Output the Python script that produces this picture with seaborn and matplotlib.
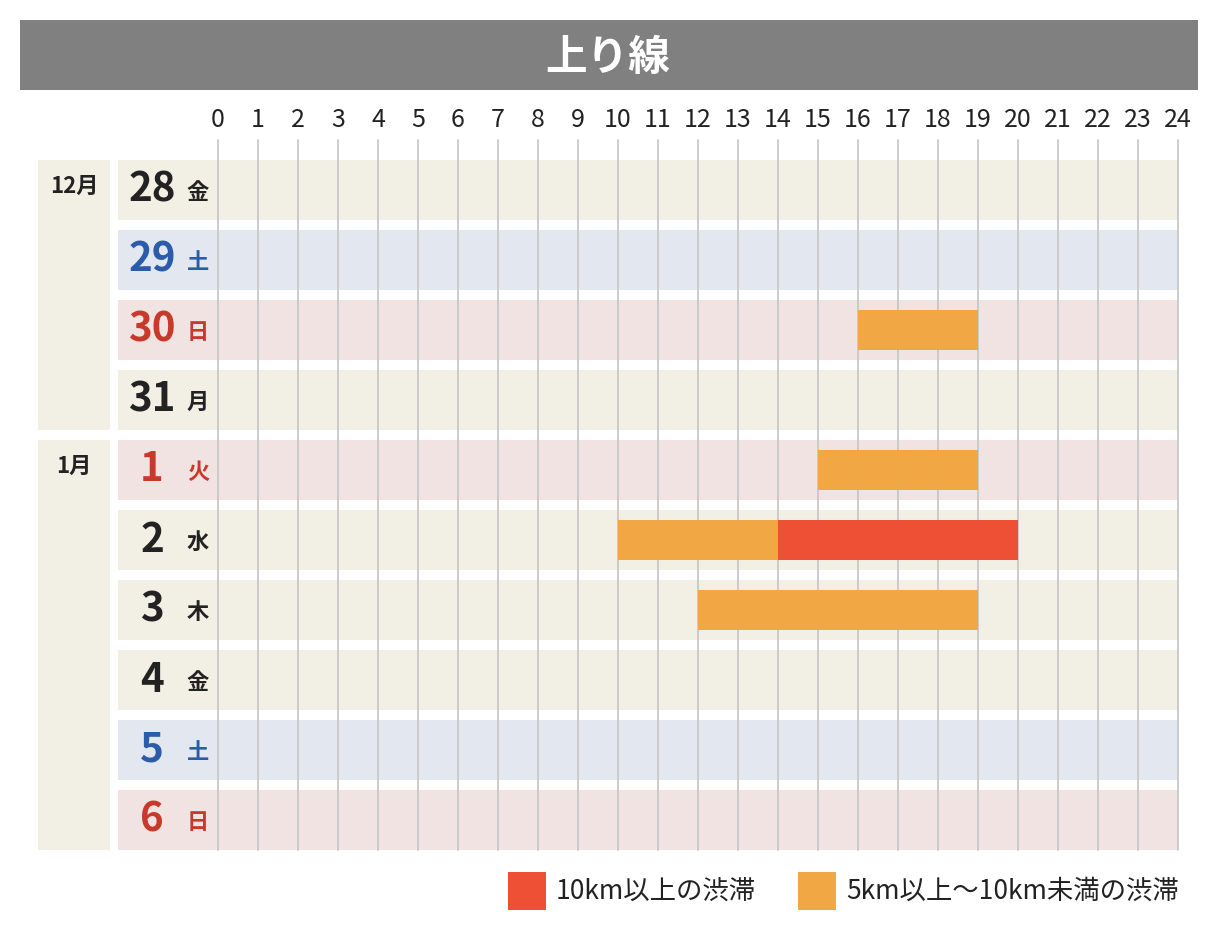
import matplotlib
matplotlib.use("Agg")
import matplotlib.pyplot as plt
import seaborn as sns
from matplotlib.patches import Rectangle

sns.set_theme(style="white", rc={"font.family": "Noto Sans CJK JP"})

days = ["28", "29", "30", "31", "1", "2", "3", "4", "5", "6"]
weekdays = ["金", "土", "日", "月", "火", "水", "木", "金", "土", "日"]
day_kind = ["w", "sat", "hol", "w", "hol", "w", "w", "w", "sat", "hol"]
hours = list(range(25))
# jams: (row, start, end, level)
jam_rows = [2, 4, 5, 5, 6]
jam_start = [16, 15, 10, 14, 12]
jam_end = [19, 19, 14, 20, 19]
jam_level = ["mid", "mid", "mid", "high", "mid"]
months = ["12月", "1月"]
month_first = [0, 4]
month_last = [3, 9]

bg = {"w": "#f2efe4", "sat": "#e3e7ef", "hol": "#f1e3e1"}
fg = {"w": "#222222", "sat": "#2a5caa", "hol": "#c8392b"}
jc = {"high": "#ee5035", "mid": "#f2a745"}

fig = plt.figure(figsize=(12.18, 9.4), dpi=100)
W, H = 1218, 940
ax = fig.add_axes([118 / W, 1 - 860 / H, 1060 / W, 710 / H])
ax.set_xlim(-2.5, 24)
ax.set_ylim(9.571, -0.571)
ax.axis("off")

rh = 60 / 70
for i, k in enumerate(day_kind):
    ax.barh(i, 26.5, left=-2.5, height=rh, color=bg[k], linewidth=0, zorder=1)
for h in hours:
    ax.plot([h, h], [-0.714, 9.43], color="#c8c8c8", lw=1.3, zorder=2, clip_on=False)
    ax.text(h, -1.0, str(h), ha="center", va="center", fontsize=18, color="#222", clip_on=False)
for r, s, e, l in zip(jam_rows, jam_start, jam_end, jam_level):
    ax.barh(r, e - s, left=s, height=40 / 70, color=jc[l], linewidth=0, zorder=3)
for i, (d, wd, k) in enumerate(zip(days, weekdays, day_kind)):
    ax.text(-1.65, i, d, ha="center", va="center", fontsize=29, fontweight="bold", color=fg[k])
    ax.text(-0.5, i + 0.03, wd, ha="center", va="center", fontsize=16, fontweight="bold", color=fg[k])
for m, a, b in zip(months, month_first, month_last):
    ax.add_patch(Rectangle((-4.5, a - rh / 2), 1.8, b - a + rh, color="#f2efe4", linewidth=0, clip_on=False, zorder=1))
    ax.text(-3.6, a - 0.05, m, ha="center", va="center", fontsize=16, fontweight="bold", color="#222", clip_on=False)

# title bar
fig.patches.append(Rectangle((20 / W, 1 - 90 / H), 1178 / W, 70 / H, transform=fig.transFigure, color="#808080", linewidth=0))
fig.text(608 / W, 1 - 58 / H, "上り線", ha="center", va="center", fontsize=30, fontweight="bold", color="white")

# legend
for x0, col, lab in [(508, jc["high"], "10km以上の渋滞"), (798, jc["mid"], "5km以上〜10km未満の渋滞")]:
    fig.patches.append(Rectangle((x0 / W, 1 - 910 / H), 38 / W, 38 / H, transform=fig.transFigure, color=col, linewidth=0))
    fig.text((x0 + 48) / W, 1 - 891 / H, lab, ha="left", va="center", fontsize=19, color="#222")

fig.savefig("out.png", dpi=100, facecolor="white")
